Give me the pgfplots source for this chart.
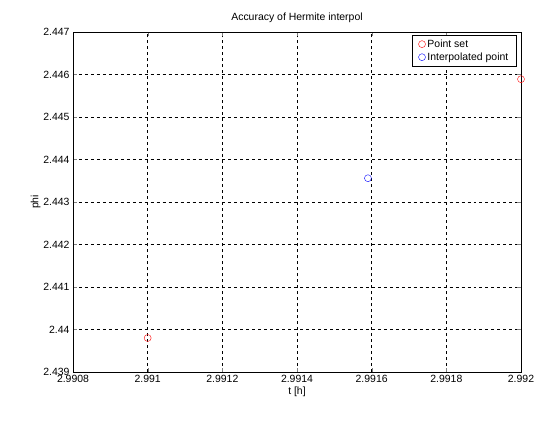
\documentclass[border=0pt]{standalone}
\usepackage{pgfplots}
\pgfplotsset{compat=1.18}
\usepackage{fontspec}
\setmainfont{Liberation Sans}
\begin{document}
\begin{tikzpicture}[x=1bp,y=1bp]
\begin{axis}[at={(0,0)},anchor=south west,
 scale only axis, width=448bp, height=340bp,
 xmin=2.9908, xmax=2.992, ymin=2.439, ymax=2.447,
 xtick={2.9908,2.991,2.9912,2.9914,2.9916,2.9918,2.992},
 xticklabels={2.9908,2.991,2.9912,2.9914,2.9916,2.9918,2.992},
 ytick={2.439,2.44,2.441,2.442,2.443,2.444,2.445,2.446,2.447},
 yticklabels={2.439,2.44,2.441,2.442,2.443,2.444,2.445,2.446,2.447},
 tick label style={font=\fontsize{10.5}{12}\selectfont},
 label style={font=\fontsize{10.5}{12}\selectfont},
 title style={font=\fontsize{10.5}{12}\selectfont},
 title={Accuracy of Hermite interpol},
 xlabel={t [h]}, ylabel={phi},
 xlabel style={yshift=3bp}, ylabel style={yshift=-4bp},
 grid=major, major grid style={black,dashed,line width=0.5pt},
 tick align=inside, xtick pos=both, ytick pos=both,
 clip=false,
 legend style={at={(0.99,0.99)},anchor=north east,font=\fontsize{10.5}{12}\selectfont,draw=black,cells={anchor=west},inner xsep=6bp},
 legend cell align=left, legend image post style={mark size=3.5pt}]
\addplot[only marks, mark=o, red, mark size=3.5pt] coordinates {(2.9910,2.4398) (2.9920,2.44589)};
\addlegendentry{Point set}
\addplot[only marks, mark=o, blue, mark size=3.5pt] coordinates {(2.99159,2.44356)};
\addlegendentry{Interpolated point}
\end{axis}
\path[use as bounding box] (-73,-48) rectangle (487,372);
\end{tikzpicture}
\end{document}
